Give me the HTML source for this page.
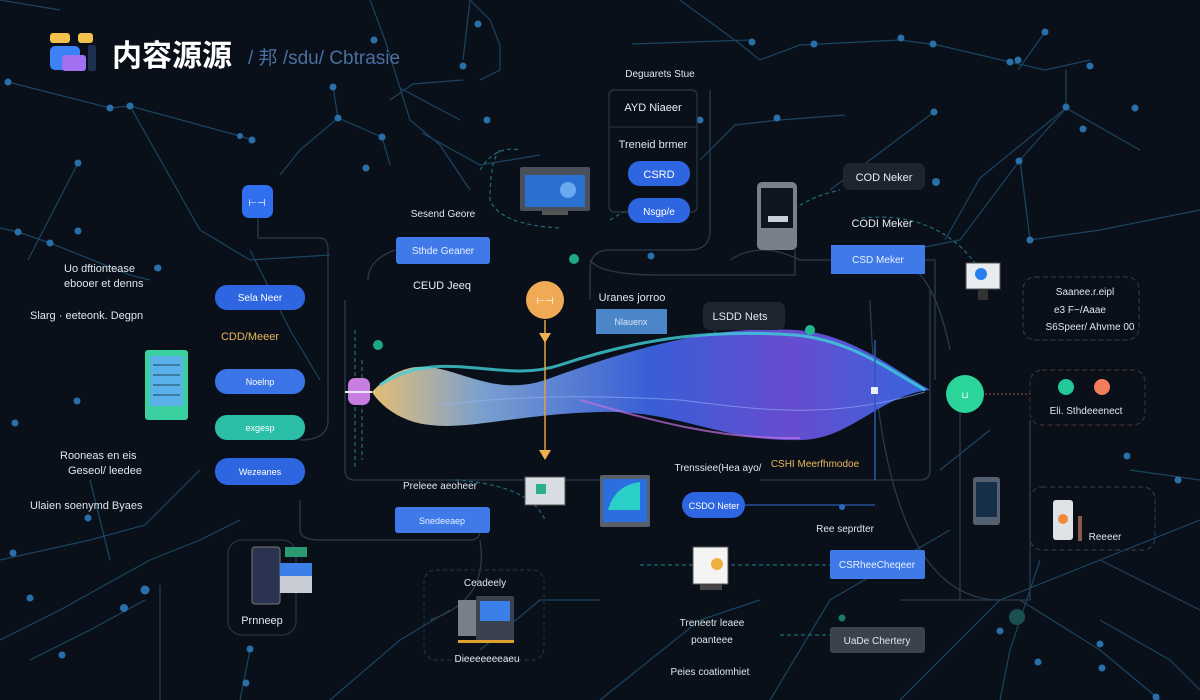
<!DOCTYPE html>
<html><head><meta charset="utf-8"><style>
html,body{margin:0;padding:0;background:#0a1019;}
svg{display:block}
text{font-family:"Liberation Sans","Noto Sans CJK SC",sans-serif;}
</style></head><body>
<svg width="1200" height="700" viewBox="0 0 1200 700" xmlns="http://www.w3.org/2000/svg">
<defs>
<linearGradient id="wv" x1="0" x2="1" y1="0" y2="0">
<stop offset="0" stop-color="#f0c77a"/><stop offset="0.2" stop-color="#7ea7d8"/><stop offset="0.5" stop-color="#3b62e0"/><stop offset="0.75" stop-color="#6b4fd8"/><stop offset="1" stop-color="#3a6ae8"/></linearGradient>
<linearGradient id="wv2" x1="0" x2="1"><stop offset="0" stop-color="#2dc2d0"/><stop offset="0.5" stop-color="#2a4fcf"/><stop offset="1" stop-color="#4a7af0"/></linearGradient>
</defs>
<rect width="1200" height="700" fill="#0a1019"/>
<!-- network lines -->
<g stroke="#1d4a6a" stroke-width="1.2" fill="none" opacity="0.9">
<polyline points="8,82 110,108 130,106 240,136 252,140"/>
<polyline points="78,163 28,260"/>
<polyline points="0,228 18,232 50,243 130,275 150,280"/>
<polyline points="130,106 200,230 250,260 330,255"/>
<polyline points="370,0 385,40 400,88 410,120 440,145 470,190"/>
<polyline points="338,118 300,150 280,175"/>
<polyline points="338,118 382,137 390,165"/>
<polyline points="338,118 333,87"/>
<polyline points="400,88 460,120"/>
<polyline points="463,60 470,0"/>
<polyline points="463,80 413,84 390,100"/>
<polyline points="470,0 490,20 500,45 500,70 480,80"/>
<polyline points="422,133 480,165 540,155"/>
<polyline points="680,0 740,44 760,60 800,45 900,40 930,44"/>
<polyline points="933,44 1010,62 1045,70 1090,60"/>
<polyline points="1018,70 1045,32"/>
<polyline points="1066,70 1066,108 1140,150"/>
<polyline points="1066,108 1020,160 960,240 910,250"/>
<polyline points="1066,108 980,178 945,240"/>
<polyline points="845,115 780,120 735,125 700,160"/>
<polyline points="934,112 870,160 830,190"/>
<polyline points="1020,160 1030,240 1100,230 1200,210"/>
<polyline points="632,44 750,40"/>
<polyline points="0,640 60,610 150,560 200,540 240,520"/>
<polyline points="0,560 90,540 145,525 200,470"/>
<polyline points="30,660 90,630 145,600"/>
<polyline points="160,585 160,700"/>
<polyline points="90,480 110,560"/>
<polyline points="250,650 240,700"/>
<polyline points="330,700 400,640 450,610"/>
<polyline points="600,700 700,620 760,600"/>
<polyline points="770,700 830,600 950,530"/>
<polyline points="900,700 1000,600 1100,560 1200,520"/>
<polyline points="1020,600 1100,650 1160,700"/>
<polyline points="1040,560 1010,650 1000,700"/>
<polyline points="1100,620 1170,660 1200,690"/>
<polyline points="1130,470 1200,480"/>
<polyline points="1100,560 1200,610"/>
<polyline points="940,470 990,430"/>
<polyline points="480,650 540,600 600,600"/>
<polyline points="250,250 290,330 320,380"/>
<polyline points="0,0 60,10"/>
</g>
<g fill="#2b6fa8">
<circle cx="8" cy="82" r="3.5"/><circle cx="110" cy="108" r="3.5"/><circle cx="130" cy="106" r="3.5"/><circle cx="240" cy="136" r="3"/><circle cx="252" cy="140" r="3.5"/>
<circle cx="78" cy="163" r="3.5"/><circle cx="18" cy="232" r="3.5"/><circle cx="50" cy="243" r="3.5"/><circle cx="157" cy="268" r="3"/>
<circle cx="338" cy="118" r="3.5"/><circle cx="333" cy="87" r="3.5"/><circle cx="374" cy="40" r="3.5"/><circle cx="382" cy="137" r="3.5"/><circle cx="366" cy="168" r="3.5"/>
<circle cx="463" cy="66" r="3.5"/><circle cx="478" cy="24" r="3.5"/><circle cx="487" cy="120" r="3.5"/>
<circle cx="752" cy="42" r="3.5"/><circle cx="814" cy="44" r="3.5"/><circle cx="700" cy="120" r="3.5"/>
<circle cx="901" cy="38" r="3.5"/><circle cx="933" cy="44" r="3.5"/><circle cx="1018" cy="60" r="3.5"/><circle cx="1045" cy="32" r="3.5"/><circle cx="1066" cy="107" r="3.5"/><circle cx="1083" cy="129" r="3.5"/><circle cx="1010" cy="62" r="3.5"/><circle cx="1090" cy="66" r="3.5"/>
<circle cx="934" cy="112" r="3.5"/><circle cx="1019" cy="161" r="3.5"/><circle cx="1030" cy="240" r="3.5"/><circle cx="936" cy="182" r="4"/><circle cx="777" cy="118" r="3.5"/>
<circle cx="1135" cy="108" r="3.5"/><circle cx="1100" cy="644" r="3.5"/><circle cx="1038" cy="662" r="3.5"/><circle cx="1102" cy="668" r="3.5"/><circle cx="1156" cy="697" r="3.5"/><circle cx="1178" cy="480" r="3.5"/><circle cx="1127" cy="456" r="3.5"/>
<circle cx="15" cy="423" r="3.5"/><circle cx="77" cy="401" r="3.5"/><circle cx="13" cy="553" r="3.5"/><circle cx="30" cy="598" r="3.5"/><circle cx="145" cy="590" r="4.5"/><circle cx="124" cy="608" r="4"/><circle cx="62" cy="655" r="3.5"/><circle cx="250" cy="649" r="3.5"/><circle cx="88" cy="518" r="3.5"/><circle cx="246" cy="683" r="3.5"/>
<circle cx="78" cy="231" r="3.5"/><circle cx="158" cy="268" r="3.5"/>
<circle cx="1000" cy="631" r="3.5"/>
</g>
<!-- dark thin connectors/paths -->
<g stroke="#2a3a4a" stroke-width="1.3" fill="none">
<path d="M258,218 V238 H320 Q328,238 328,250 V420 Q328,440 300,440"/>
<path d="M345,300 V470 Q345,480 355,480 H600"/>
<path d="M368,280 Q368,260 395,250"/>
<path d="M300,500 V530 Q300,540 320,540 H470 Q480,540 480,530"/>
<path d="M710,90 V230 Q710,250 690,250 H610 Q590,250 590,270 V300"/>
<path d="M730,260 Q760,240 800,260 H935 V380"/>
<path d="M880,260 Q930,250 950,350"/>
<path d="M930,290 V470 Q930,480 920,480 H760"/>
<path d="M960,410 V600"/>
<path d="M1030,420 V600 H900"/>
<path d="M870,300 Q880,600 1000,600"/>
<path d="M480,540 Q490,600 430,620"/>
<path d="M545,320 V410"/>
<path d="M715,330 V420"/>
<path d="M590,260 Q600,275 660,275 H795 V250"/>
</g>
<g stroke="#1f6a7a" stroke-width="1.2" fill="none" stroke-dasharray="4 3">
<path d="M355,330 V470"/><path d="M362,360 V460"/><path d="M480,170 Q495,145 520,150"/>
<path d="M500,150 Q490,160 490,200 Q500,225 560,228"/>
<path d="M610,220 Q640,200 680,200"/>
<path d="M780,225 Q795,200 840,190"/>
<path d="M980,270 Q940,210 860,218 "/>
<path d="M780,635 H830"/>
<path d="M640,565 H830"/>
<path d="M455,480 Q530,485 545,520"/>
</g>
<!-- wave -->
<path d="M372,392 C430,330 470,405 545,380 C640,345 720,325 795,330 C850,333 895,370 930,390 C880,395 850,440 800,440 C720,442 680,410 600,412 C520,414 470,430 430,425 C400,422 380,405 372,392 Z" fill="url(#wv)" opacity="0.95"/>
<path d="M380,385 C440,345 500,385 560,365 C650,335 720,330 795,335 C850,340 890,370 925,390" stroke="#3fd0d8" stroke-width="3" fill="none" opacity="0.8"/>
<path d="M440,405 C520,395 600,395 680,400 C760,410 830,420 925,392" stroke="#9fb0ff" stroke-width="1" fill="none" opacity="0.6"/>
<path d="M580,400 C650,420 720,440 800,438" stroke="#c070e0" stroke-width="2" fill="none" opacity="0.7"/>
<line x1="545" y1="320" x2="545" y2="455" stroke="#e0a040" stroke-width="1.5"/>
<line x1="875" y1="340" x2="875" y2="480" stroke="#2a5ab0" stroke-width="1.5"/>
<rect x="871" y="387" width="7" height="7" fill="#e8eef8"/>
<rect x="348" y="378" width="22" height="27" rx="7" fill="#c77ee0"/>
<line x1="345" y1="392" x2="372" y2="392" stroke="#e8e8f8" stroke-width="2"/>
<!-- logo -->
<rect x="50" y="33" width="20" height="10" rx="3" fill="#f2c14e"/>
<rect x="78" y="33" width="15" height="10" rx="3" fill="#f2c14e"/>
<rect x="50" y="46" width="30" height="24" rx="5" fill="#3b82f6"/>
<rect x="62" y="55" width="24" height="16" rx="3" fill="#a070f0"/>
<rect x="88" y="45" width="8" height="26" rx="2" fill="#1e3050"/>
<text x="112" y="66" fill="#ffffff" font-size="30" font-weight="bold">内容源源</text>
<text x="248" y="64" fill="#4a6fa0" font-size="19">/ 邦 /sdu/ Cbtrasie</text>
<!-- left column -->
<rect x="242" y="185" width="31" height="33" rx="7" fill="#2f6ff0"/>
<text x="257" y="206" fill="#fff" font-size="10" text-anchor="middle">⊢⊣</text>
<g font-size="11" fill="#dfe6ee">
<text x="64" y="272">Uo dftiontease</text><text x="64" y="287">ebooer et denns</text><text x="30" y="319">Slarg · eeteonk. Degpn</text>
<text x="60" y="459">Rooneas en eis</text><text x="68" y="474">Geseol/ leedee</text><text x="30" y="509">Ulaien soenymd Byaes</text>
</g>
<rect x="215" y="285" width="90" height="25" rx="12" fill="#2d66e0"/><text x="260" y="301" fill="#fff" font-size="10" text-anchor="middle">Sela Neer</text>
<text x="250" y="340" fill="#e8b860" font-size="11" text-anchor="middle">CDD/Meeer</text>
<rect x="215" y="369" width="90" height="25" rx="12" fill="#3a74e6"/><text x="260" y="385" fill="#fff" font-size="9" text-anchor="middle">Noelnp</text>
<rect x="215" y="415" width="90" height="25" rx="12" fill="#2bbfa8"/><text x="260" y="431" fill="#fff" font-size="9" text-anchor="middle">exgesp</text>
<rect x="215" y="458" width="90" height="27" rx="13" fill="#2d66e0"/><text x="260" y="475" fill="#fff" font-size="9" text-anchor="middle">Wezeanes</text>
<rect x="145" y="350" width="43" height="70" rx="3" fill="#3ad0a0"/><rect x="150" y="356" width="33" height="50" fill="#5ab0e8"/>
<g stroke="#1a4a5a" stroke-width="1"><line x1="153" y1="365" x2="180" y2="365"/><line x1="153" y1="375" x2="180" y2="375"/><line x1="153" y1="385" x2="180" y2="385"/><line x1="153" y1="395" x2="180" y2="395"/></g>
<rect x="228" y="540" width="68" height="95" rx="14" fill="none" stroke="#243444" stroke-width="1.3"/>
<rect x="252" y="547" width="28" height="57" rx="3" fill="#2a3350" stroke="#777" stroke-width="1"/>
<rect x="280" y="563" width="32" height="30" fill="#c8ccd4"/><rect x="280" y="563" width="32" height="13" fill="#3a80e8"/>
<rect x="285" y="547" width="22" height="10" fill="#2a9a70"/>
<text x="262" y="624" fill="#dfe6ee" font-size="11" text-anchor="middle">Prnneep</text>
<!-- center -->
<text x="443" y="217" fill="#dfe6ee" font-size="10" text-anchor="middle">Sesend Geore</text>
<rect x="396" y="237" width="94" height="27" rx="3" fill="#3f7ae8"/><text x="443" y="254" fill="#e8f0ff" font-size="10" text-anchor="middle">Sthde Geaner</text>
<text x="442" y="289" fill="#e8eef8" font-size="11" text-anchor="middle">CEUD Jeeq</text>
<circle cx="545" cy="300" r="19" fill="#f0a955"/><text x="545" y="304" fill="#fff" font-size="10" text-anchor="middle">⊢⊣</text>
<path d="M539,333 h12 l-6,10 z" fill="#f0b050"/>
<path d="M539,450 h12 l-6,10 z" fill="#f0b050"/>
<circle cx="574" cy="259" r="5" fill="#1ea88a"/><circle cx="378" cy="345" r="5" fill="#1ea88a"/>
<text x="632" y="301" fill="#dfe6ee" font-size="11" text-anchor="middle">Uranes jorroo</text>
<rect x="596" y="309" width="71" height="25" fill="#4a86c8"/><text x="631" y="325" fill="#d8e6f6" font-size="9" text-anchor="middle">Nlauenx</text>
<rect x="703" y="302" width="82" height="28" rx="7" fill="#1e2530"/><text x="740" y="320" fill="#e0e6ee" font-size="11" text-anchor="middle">LSDD Nets</text>
<circle cx="810" cy="330" r="5" fill="#20b890"/>
<text x="660" y="77" fill="#dfe6ee" font-size="10" text-anchor="middle">Deguarets Stue</text>
<rect x="609" y="90" width="88" height="122" rx="5" fill="none" stroke="#2a3848" stroke-width="1.2"/>
<line x1="609" y1="127" x2="697" y2="127" stroke="#2a3848"/>
<text x="653" y="111" fill="#e8eef8" font-size="11" text-anchor="middle">AYD Niaeer</text>
<text x="653" y="148" fill="#dfe6ee" font-size="11" text-anchor="middle">Treneid brmer</text>
<rect x="628" y="161" width="62" height="25" rx="12" fill="#2d66e0"/><text x="659" y="178" fill="#fff" font-size="11" text-anchor="middle">CSRD</text>
<rect x="628" y="198" width="62" height="25" rx="12" fill="#2d66e0"/><text x="659" y="215" fill="#fff" font-size="10" text-anchor="middle">Nsgp/e</text>
<circle cx="651" cy="256" r="3.5" fill="#2b6fa8"/>
<rect x="520" y="167" width="70" height="44" rx="2" fill="#4a505a"/><rect x="525" y="175" width="60" height="32" fill="#2a70d0"/><circle cx="568" cy="190" r="8" fill="#6aa8f0"/>
<rect x="542" y="211" width="26" height="4" fill="#555"/>
<rect x="757" y="182" width="40" height="68" rx="5" fill="#7a808a"/><rect x="761" y="188" width="32" height="40" fill="#0e1520"/><rect x="768" y="216" width="20" height="6" fill="#c8d0d8"/>
<rect x="843" y="163" width="82" height="27" rx="7" fill="#1e2530"/><text x="884" y="181" fill="#e8eef8" font-size="11" text-anchor="middle">COD Neker</text>
<text x="882" y="227" fill="#e8eef8" font-size="11" text-anchor="middle">CODI Meker</text>
<rect x="831" y="245" width="94" height="29" fill="#3f7ae8"/><text x="878" y="263" fill="#e8f0ff" font-size="10" text-anchor="middle">CSD Meker</text>
<rect x="966" y="263" width="34" height="26" fill="#e8ecf0" stroke="#555"/><circle cx="981" cy="274" r="6" fill="#2b7ef0"/><rect x="978" y="290" width="10" height="10" fill="#333"/>
<rect x="1023" y="277" width="116" height="63" rx="12" fill="none" stroke="#2a3848" stroke-width="1.2" stroke-dasharray="5 3"/>
<g font-size="10" fill="#dfe6ee" text-anchor="middle"><text x="1085" y="295">Saanee.r.eipl</text><text x="1080" y="313">e3 F−/Aaae</text><text x="1090" y="330">S6Speer/ Ahvme 00</text></g>
<circle cx="965" cy="394" r="19" fill="#2bd59a"/><text x="965" y="398" fill="#fff" font-size="9" text-anchor="middle">⊔</text>
<rect x="1030" y="370" width="115" height="55" rx="12" fill="none" stroke="#3a3030" stroke-width="1.2" stroke-dasharray="5 3"/>
<circle cx="1066" cy="387" r="8" fill="#22c79a"/><circle cx="1102" cy="387" r="8" fill="#f27d5a"/>
<text x="1086" y="414" fill="#dfe6ee" font-size="10" text-anchor="middle">Eli. Sthdeeenect</text>
<line x1="985" y1="394" x2="1030" y2="394" stroke="#a05040" stroke-dasharray="2 2"/>
<rect x="973" y="477" width="27" height="48" rx="3" fill="#556070"/><rect x="976" y="482" width="21" height="35" fill="#17304a"/>
<rect x="1030" y="487" width="125" height="63" rx="12" fill="none" stroke="#2a3848" stroke-width="1.2" stroke-dasharray="5 3"/>
<rect x="1053" y="500" width="20" height="40" rx="3" fill="#dfe3e8"/><circle cx="1063" cy="519" r="5" fill="#f08a3a"/><rect x="1078" y="516" width="4" height="25" fill="#8a5a4a"/>
<text x="1105" y="540" fill="#dfe6ee" font-size="10" text-anchor="middle">Reeeer</text>
<!-- lower center -->
<text x="440" y="489" fill="#dfe6ee" font-size="10" text-anchor="middle">Preleee aeoheer</text>
<rect x="395" y="507" width="95" height="26" rx="3" fill="#3f7ae8"/><text x="442" y="524" fill="#e8f0ff" font-size="9" text-anchor="middle">Snedeeaep</text>
<rect x="525" y="477" width="40" height="28" fill="#d8dde4" stroke="#555"/><rect x="536" y="484" width="10" height="10" fill="#2ab090"/>
<rect x="424" y="570" width="120" height="90" rx="12" fill="none" stroke="#223040" stroke-width="1.2" stroke-dasharray="4 3"/>
<text x="485" y="586" fill="#dfe6ee" font-size="10" text-anchor="middle">Ceadeely</text>
<rect x="458" y="600" width="18" height="36" fill="#7a808a"/><rect x="476" y="596" width="38" height="45" rx="2" fill="#3a4250"/><rect x="480" y="601" width="30" height="20" fill="#3a80e8"/><rect x="458" y="640" width="56" height="3" fill="#e0a030"/>
<text x="487" y="662" fill="#dfe6ee" font-size="10" text-anchor="middle">Dieeeeeeeaeu</text>
<rect x="600" y="475" width="50" height="52" rx="2" fill="#5a606a"/><rect x="603" y="479" width="44" height="43" fill="#2a6ee0"/><path d="M608,510 Q615,485 640,482 L640,510 Z" fill="#2ad0c8"/>
<text x="718" y="471" fill="#dfe6ee" font-size="10" text-anchor="middle">Trenssiee(Hea ayo/</text>
<text x="815" y="467" fill="#e8b860" font-size="10" text-anchor="middle">CSHI Meerfhmodoe</text>
<rect x="682" y="492" width="63" height="26" rx="13" fill="#2d66e0"/><text x="714" y="509" fill="#fff" font-size="9" text-anchor="middle">CSDO Neter</text>
<line x1="745" y1="505" x2="875" y2="505" stroke="#2a5ab0" stroke-width="1.3"/><circle cx="842" cy="507" r="3" fill="#2a6ac0"/>
<text x="845" y="532" fill="#dfe6ee" font-size="10" text-anchor="middle">Ree seprdter</text>
<rect x="830" y="550" width="95" height="29" rx="2" fill="#3f7ae8"/><text x="877" y="568" fill="#e8f0ff" font-size="10" text-anchor="middle">CSRheeCheqeer</text>
<rect x="693" y="547" width="35" height="37" fill="#f4f4f4" stroke="#555"/><circle cx="717" cy="564" r="6" fill="#f0b040"/><rect x="700" y="584" width="22" height="6" fill="#444"/>
<text x="712" y="626" fill="#dfe6ee" font-size="10" text-anchor="middle">Treneetr leaee</text>
<text x="712" y="643" fill="#dfe6ee" font-size="10" text-anchor="middle">poanteee</text>
<text x="710" y="675" fill="#dfe6ee" font-size="10" text-anchor="middle">Peies coatiomhiet</text>
<rect x="830" y="627" width="95" height="26" rx="3" fill="#3a424c"/><text x="877" y="644" fill="#e0e6ee" font-size="10" text-anchor="middle">UaDe Chertery</text>
<circle cx="842" cy="618" r="3.5" fill="#1a7a70"/><circle cx="1017" cy="617" r="8" fill="#1a5050"/>
</svg>
</body></html>
